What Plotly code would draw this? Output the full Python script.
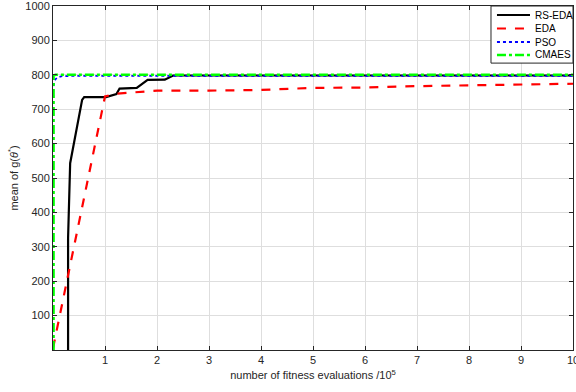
import plotly.graph_objects as go

names = ["RS-EDA", "EDA", "PSO", "CMAES"]
colors = ["black", "#ff0000", "#0000ff", "#00ff00"]
dashes = ["solid", "dash", "dot", "dashdot"]
widths = [2.2, 2.2, 1.8, 2.6]

# RS-EDA (black solid)
rs_x = [0.29, 0.29, 0.33, 0.56, 0.60, 1.02, 1.22, 1.28, 1.61, 1.82, 2.15, 2.31, 10.0]
rs_y = [0, 325, 543, 727, 735, 735, 744, 760, 762, 785, 786, 798, 798]

# EDA (red dashed)
eda_x = [0.0, 1.0, 1.2, 2.0, 3.0, 4.0, 5.0, 6.0, 7.0, 8.0, 9.0, 10.0]
eda_y = [5, 737, 745, 754, 754, 756, 762, 763, 767, 769, 771, 774]

# PSO (blue dotted)
pso_x = [0.0, 0.005, 0.03, 0.08, 0.17, 0.4, 10.0]
pso_y = [0, 765, 784, 792, 796, 797, 797]

# CMAES (green dash-dot)
cma_x = [0.01, 0.01, 0.05, 10.0]
cma_y = [0, 798, 800, 800]

x_ticks = [1, 2, 3, 4, 5, 6, 7, 8, 9, 10]
y_ticks = [100, 200, 300, 400, 500, 600, 700, 800, 900, 1000]

font = "Liberation Sans, Arial, sans-serif"
fig = go.Figure()
for nm, xs, ys, c, d, w in zip(names, [rs_x, eda_x, pso_x, cma_x], [rs_y, eda_y, pso_y, cma_y],
                                colors, dashes, widths):
    fig.add_trace(go.Scatter(x=xs, y=ys, mode="lines", name=nm,
                             line=dict(color=c, width=w, dash=d), showlegend=False))

axis_common = dict(showline=True, linecolor="#262626", linewidth=1, mirror="ticks",
                   ticks="inside", ticklen=4, tickcolor="#262626", automargin=False,
                   ticklabeloverflow="allow",
                   showgrid=True, gridcolor="#dedede", gridwidth=1, zeroline=False,
                   tickfont=dict(family=font, size=11, color="#262626"))
fig.update_xaxes(range=[0, 10], tickvals=x_ticks, ticktext=[str(t) for t in x_ticks],
                 title=dict(text="number of fitness evaluations /10<sup>5</sup>",
                            font=dict(family=font, size=11, color="#262626"), standoff=6),
                 **axis_common)
fig.update_yaxes(range=[0, 1000], tickvals=y_ticks, ticktext=[str(t) for t in y_ticks],
                 title=dict(text="mean of g(<i>θ</i><sup>*</sup>)",
                            font=dict(family=font, size=11, color="#262626"), standoff=4),
                 **axis_common)

# custom legend box (paper coordinates)
fig.add_shape(type="rect", xref="paper", yref="paper", x0=0.8423, x1=1.0, y0=0.834, y1=1.0,
              line=dict(color="#262626", width=1), fillcolor="white", layer="above")
leg_y = [0.9738, 0.9346, 0.8953, 0.8576]
for nm, c, d, w, yy in zip(names, colors, dashes, widths, leg_y):
    fig.add_shape(type="line", xref="paper", yref="paper", x0=0.8538, x1=0.9173, y0=yy, y1=yy,
                  line=dict(color=c, width=w, dash=d), layer="above")
    fig.add_annotation(xref="paper", yref="paper", x=0.9231, y=yy, text=nm, showarrow=False,
                       xanchor="left", yanchor="middle",
                       font=dict(family=font, size=10, color="black"))

fig.update_layout(
    width=576, height=392,
    margin=dict(l=53, r=3, t=6, b=42, autoexpand=False),
    paper_bgcolor="white", plot_bgcolor="white",
    showlegend=False,
)
fig.write_html("out.html", config={"displayModeBar": False},
               post_script="document.body.style.margin='0';document.body.style.overflow='hidden';")
